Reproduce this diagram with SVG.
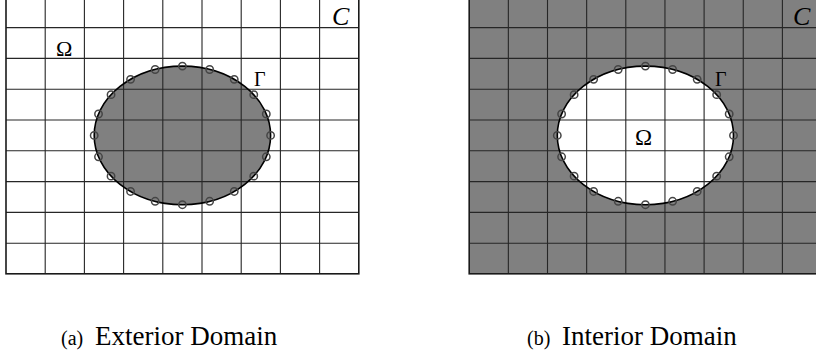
<svg xmlns="http://www.w3.org/2000/svg" width="816" height="358" viewBox="0 0 816 358">
  <style>
    .grid { stroke: #262626; stroke-width: 1.1; fill: none; }
    .border { stroke: #1a1a1a; stroke-width: 1.6; fill: none; }
    .bnd { stroke: #000; stroke-width: 1.6; }
    .pt { fill: none; stroke: #454545; stroke-width: 1.5; }
    .lbl { fill: #000; }
    .cal { font-style: italic; fill: #000; }
    .cap { fill: #000; }
  </style>
  <defs>
    <circle id="p" r="3.7" class="pt"/>
    <path id="gridA" class="grid" d="M45.2,-4V273.6 M84.4,-4V273.6 M123.6,-4V273.6 M162.8,-4V273.6 M202,-4V273.6 M241.2,-4V273.6 M280.4,-4V273.6 M319.6,-4V273.6 M6,27.6H358.8 M6,58.4H358.8 M6,89.2H358.8 M6,120H358.8 M6,150.8H358.8 M6,181.6H358.8 M6,212.4H358.8 M6,243.2H358.8"/>
    <path id="gridB" class="grid" d="M508.35,-4V273.6 M547.5,-4V273.6 M586.65,-4V273.6 M625.8,-4V273.6 M664.95,-4V273.6 M704.1,-4V273.6 M743.25,-4V273.6 M782.4,-4V273.6 M469.2,27.6H822 M469.2,58.4H822 M469.2,89.2H822 M469.2,120H822 M469.2,150.8H822 M469.2,181.6H822 M469.2,212.4H822 M469.2,243.2H822"/>
  </defs>

  <g id="panel-a">
    <rect x="6" y="-3.2" width="352.8" height="277.2" fill="#fff"/>
    <ellipse cx="182.4" cy="135.4" rx="88.2" ry="69.3" fill="#808080"/>
    <use href="#gridA"/>
    <rect class="border" x="6" y="-3.2" width="352.8" height="277"/>
    <ellipse class="bnd" cx="182.4" cy="135.4" rx="88.2" ry="69.3" fill="none"/>
    <g id="points-a">
      <use href="#p" x="270.6" y="135.4"/>
      <use href="#p" x="266.29" y="113.99"/>
      <use href="#p" x="253.75" y="94.67"/>
      <use href="#p" x="234.24" y="79.34"/>
      <use href="#p" x="209.65" y="69.49"/>
      <use href="#p" x="182.4" y="66.1"/>
      <use href="#p" x="155.15" y="69.49"/>
      <use href="#p" x="130.56" y="79.34"/>
      <use href="#p" x="111.05" y="94.67"/>
      <use href="#p" x="98.51" y="113.99"/>
      <use href="#p" x="94.2" y="135.4"/>
      <use href="#p" x="98.51" y="156.81"/>
      <use href="#p" x="111.05" y="176.13"/>
      <use href="#p" x="130.56" y="191.46"/>
      <use href="#p" x="155.15" y="201.31"/>
      <use href="#p" x="182.4" y="204.7"/>
      <use href="#p" x="209.65" y="201.31"/>
      <use href="#p" x="234.24" y="191.46"/>
      <use href="#p" x="253.75" y="176.13"/>
      <use href="#p" x="266.29" y="156.81"/>
    </g>
    <text class="lbl" font-family="'Liberation Serif', 'DejaVu Serif', serif" x="56" y="55.7" font-size="22">Ω</text>
    <text class="lbl" font-family="'Liberation Serif', 'DejaVu Serif', serif" x="254" y="85.5" font-size="20">Γ</text>
    <text class="cal" font-family="'Liberation Serif', 'DejaVu Serif', serif" x="332" y="24.5" font-size="26">C</text>
  </g>

  <g id="panel-b">
    <rect x="469.2" y="-3.2" width="353" height="277.2" fill="#808080"/>
    <ellipse cx="645.4" cy="135.4" rx="88.1" ry="69.3" fill="#fff"/>
    <use href="#gridB"/>
    <rect class="border" x="469.2" y="-3.2" width="360" height="277"/>
    <ellipse class="bnd" cx="645.4" cy="135.4" rx="88.1" ry="69.3" fill="none"/>
    <g id="points-b">
      <use href="#p" x="733.5" y="135.4"/>
      <use href="#p" x="729.19" y="113.99"/>
      <use href="#p" x="716.67" y="94.67"/>
      <use href="#p" x="697.19" y="79.34"/>
      <use href="#p" x="672.62" y="69.49"/>
      <use href="#p" x="645.4" y="66.1"/>
      <use href="#p" x="618.18" y="69.49"/>
      <use href="#p" x="593.61" y="79.34"/>
      <use href="#p" x="574.13" y="94.67"/>
      <use href="#p" x="561.61" y="113.99"/>
      <use href="#p" x="557.3" y="135.4"/>
      <use href="#p" x="561.61" y="156.81"/>
      <use href="#p" x="574.13" y="176.13"/>
      <use href="#p" x="593.61" y="191.46"/>
      <use href="#p" x="618.18" y="201.31"/>
      <use href="#p" x="645.4" y="204.7"/>
      <use href="#p" x="672.62" y="201.31"/>
      <use href="#p" x="697.19" y="191.46"/>
      <use href="#p" x="716.67" y="176.13"/>
      <use href="#p" x="729.19" y="156.81"/>
    </g>
    <text class="lbl" font-family="'Liberation Serif', 'DejaVu Serif', serif" x="635" y="145" font-size="23">Ω</text>
    <text class="lbl" font-family="'Liberation Serif', 'DejaVu Serif', serif" x="715" y="86" font-size="20">Γ</text>
    <text class="cal" font-family="'Liberation Serif', 'DejaVu Serif', serif" x="793" y="24.5" font-size="26">C</text>
  </g>

  <g id="captions">
    <text class="cap" font-family="'Liberation Serif', 'DejaVu Serif', serif" x="61" y="345"><tspan font-size="20">(a)</tspan><tspan x="95" font-size="27">Exterior Domain</tspan></text>
    <text class="cap" font-family="'Liberation Serif', 'DejaVu Serif', serif" x="527" y="345"><tspan font-size="20">(b)</tspan><tspan x="562" font-size="27">Interior Domain</tspan></text>
  </g>
</svg>
